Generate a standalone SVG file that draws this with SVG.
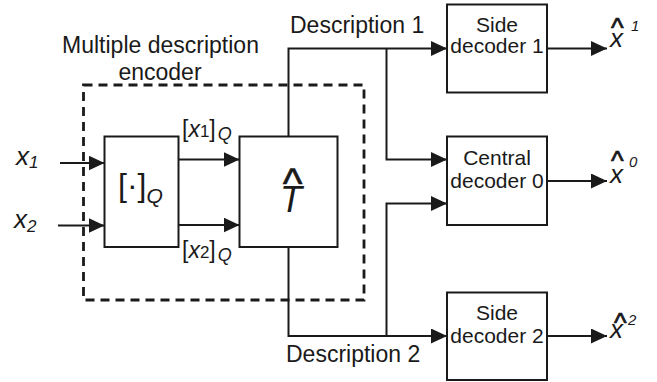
<svg xmlns="http://www.w3.org/2000/svg" width="657" height="382" viewBox="0 0 657 382">
<style>
text{font-family:"Liberation Sans",Arial,Helvetica,sans-serif;fill:#1a1a1a}
.box{fill:#fff;stroke:#1a1a1a;stroke-width:2}
.dash{fill:none;stroke:#1a1a1a;stroke-width:2.8;stroke-dasharray:9 6}
.ln{fill:none;stroke:#1a1a1a;stroke-width:2}
.lbl{font-size:23px}
.dec{font-size:21px;text-anchor:middle}
.it{font-style:italic}
.hat{font-size:27px;stroke:#1a1a1a;stroke-width:0.7}
</style>
<defs>
<marker id="ah" markerUnits="userSpaceOnUse" markerWidth="17" markerHeight="16" refX="16" refY="7.5" orient="auto">
<path d="M0,0 L16,7.5 L0,15 z" fill="#1a1a1a"/>
</marker>
</defs>
<rect width="657" height="382" fill="#fff"/>
<g id="encoder">
<rect class="dash" x="83.5" y="85" width="280.5" height="215"/>
<text class="lbl" x="160.5" y="53" text-anchor="middle">Multiple description</text>
<text class="lbl" x="160" y="80" text-anchor="middle">encoder</text>
</g>
<g id="connectors">
<line class="ln" x1="60" y1="163" x2="104.5" y2="163" marker-end="url(#ah)"/>
<line class="ln" x1="58" y1="225.5" x2="104.5" y2="225.5" marker-end="url(#ah)"/>
<line class="ln" x1="178" y1="159.5" x2="239.5" y2="159.5" marker-end="url(#ah)"/>
<line class="ln" x1="178" y1="225" x2="239.5" y2="225" marker-end="url(#ah)"/>
<polyline class="ln" points="288.5,136 288.5,48.5 447,48.5" marker-end="url(#ah)"/>
<polyline class="ln" points="386.5,48.5 386.5,159.5 447,159.5" marker-end="url(#ah)"/>
<polyline class="ln" points="288.5,247 288.5,336 447,336" marker-end="url(#ah)"/>
<polyline class="ln" points="386.5,336 386.5,203.5 447,203.5" marker-end="url(#ah)"/>
<line class="ln" x1="547" y1="48.5" x2="607" y2="48.5" marker-end="url(#ah)"/>
<line class="ln" x1="547" y1="181" x2="607" y2="181" marker-end="url(#ah)"/>
<line class="ln" x1="547" y1="336" x2="607" y2="336" marker-end="url(#ah)"/>
</g>
<g id="inputs">
<text x="16" y="165" font-size="26" class="it">x<tspan font-size="17" dy="3">1</tspan></text>
<text x="14" y="228" font-size="26" class="it">x<tspan font-size="17" dy="4">2</tspan></text>
</g>
<g id="quantizer">
<rect class="box" x="104.5" y="136.5" width="74" height="110.5"/>
<text x="118" y="196" font-size="32">[·]<tspan class="it" font-size="21" dy="7">Q</tspan></text>
</g>
<g id="quant-labels">
<text x="182" y="137" font-size="23">[<tspan class="it">x</tspan><tspan font-size="17">1</tspan>]<tspan class="it" font-size="18" dx="2" dy="3">Q</tspan></text>
<text x="182" y="258" font-size="23">[<tspan class="it">x</tspan><tspan font-size="17">2</tspan>]<tspan class="it" font-size="18" dx="2" dy="3">Q</tspan></text>
</g>
<g id="transform">
<rect class="box" x="239.5" y="136.5" width="98" height="110.5"/>
<text x="292.5" y="198" font-size="42" text-anchor="middle" stroke="#1a1a1a" stroke-width="0.6">^</text>
<text x="291" y="212" font-size="36" class="it" text-anchor="middle">T</text>
</g>
<g id="desc-labels">
<text class="lbl" x="290" y="33">Description 1</text>
<text class="lbl" x="286" y="362">Description 2</text>
</g>
<g id="side1">
<rect class="box" x="447" y="4.5" width="100" height="88"/>
<text class="dec" x="497" y="32">Side</text>
<text class="dec" x="497" y="53">decoder 1</text>
</g>
<g id="central">
<rect class="box" x="447" y="136.5" width="100" height="88.5"/>
<text class="dec" x="497" y="165">Central</text>
<text class="dec" x="497" y="188">decoder 0</text>
</g>
<g id="side2">
<rect class="box" x="447" y="292.5" width="100" height="87.5"/>
<text class="dec" x="497" y="320">Side</text>
<text class="dec" x="497" y="343">decoder 2</text>
</g>
<g id="outputs">
<text class="hat" x="611" y="37">^</text>
<text x="610" y="47" font-size="26" class="it">x</text>
<text x="631" y="31" font-size="15" class="it">1</text>
<text class="hat" x="611" y="170">^</text>
<text x="610" y="183" font-size="26" class="it">x</text>
<text x="629" y="167" font-size="15" class="it">0</text>
<text class="hat" x="614" y="332">^</text>
<text x="610" y="338" font-size="26" class="it">x</text>
<text x="628" y="325" font-size="15" class="it">2</text>
</g>
</svg>
